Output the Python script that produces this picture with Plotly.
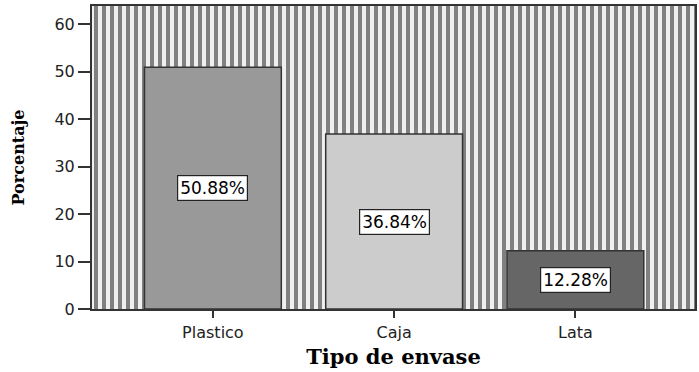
import plotly.graph_objects as go

# Packaging type distribution
categorias = ["Plastico", "Caja", "Lata"]
porcentajes = [50.88, 36.84, 12.28]
colores = ["#999999", "#cccccc", "#666666"]
y_ticks = [0, 10, 20, 30, 40, 50, 60]

fig = go.Figure()

# Striped plot background, drawn on its own hidden axes beneath the bars
fig.add_trace(go.Scatter(
    x=[0, 1, 1, 0, 0], y=[0, 0, 1, 1, 0],
    fill="toself", mode="none",
    fillcolor="#808080",
    fillpattern=dict(shape="|", size=8, solidity=0.5,
                     fgcolor="#808080", bgcolor="#f0f0f0", fillmode="replace"),
    hoverinfo="skip", showlegend=False,
    xaxis="x", yaxis="y",
))

fig.add_trace(go.Bar(
    x=categorias, y=porcentajes,
    marker=dict(color=colores, line=dict(color="#333333", width=1.5)),
    width=0.755,
    showlegend=False,
    xaxis="x2", yaxis="y2",
))

for c, v in zip(categorias, porcentajes):
    fig.add_annotation(
        x=c, y=v / 2, xref="x2", yref="y2",
        text=f"{v:.2f}%", showarrow=False,
        font=dict(family="DejaVu Sans, Arial", size=17, color="#000000"),
        bgcolor="#ffffff", bordercolor="#222222", borderwidth=1.2, borderpad=2,
    )

fig.update_layout(
    width=699, height=372,
    margin=dict(l=92, r=2, t=6, b=63),
    paper_bgcolor="#ffffff",
    plot_bgcolor="rgba(0,0,0,0)",
    xaxis=dict(domain=[0, 1], range=[0, 1], visible=False, fixedrange=True),
    yaxis=dict(domain=[0, 1], range=[0, 1], visible=False, fixedrange=True),
    xaxis2=dict(
        domain=[0, 1], anchor="y2",
        range=[-0.667, 2.66],
        showgrid=False, zeroline=False,
        showline=True, linecolor="#333333", linewidth=2, mirror=True,
        ticks="outside", ticklen=7, tickwidth=1.5, tickcolor="#333333",
        ticklabelstandoff=1,
        tickfont=dict(family="DejaVu Sans, Arial", size=16, color="#222222"),
        title=dict(text="<b>Tipo de envase</b>",
                   font=dict(family="DejaVu Serif, Times New Roman", size=21, color="#000000"),
                   standoff=8),
    ),
    yaxis2=dict(
        domain=[0, 1], anchor="x2",
        range=[0, 63.8],
        tickvals=y_ticks,
        showgrid=False, zeroline=False,
        showline=True, linecolor="#333333", linewidth=2, mirror=True,
        ticks="outside", ticklen=12, tickwidth=1.5, tickcolor="#333333",
        ticklabelstandoff=0,
        tickfont=dict(family="DejaVu Sans, Arial", size=16, color="#222222"),
        title=dict(text="<b>Porcentaje</b>",
                   font=dict(family="DejaVu Serif, Times New Roman", size=16, color="#000000"),
                   standoff=26),
    ),
)

fig.write_html("out.html")
